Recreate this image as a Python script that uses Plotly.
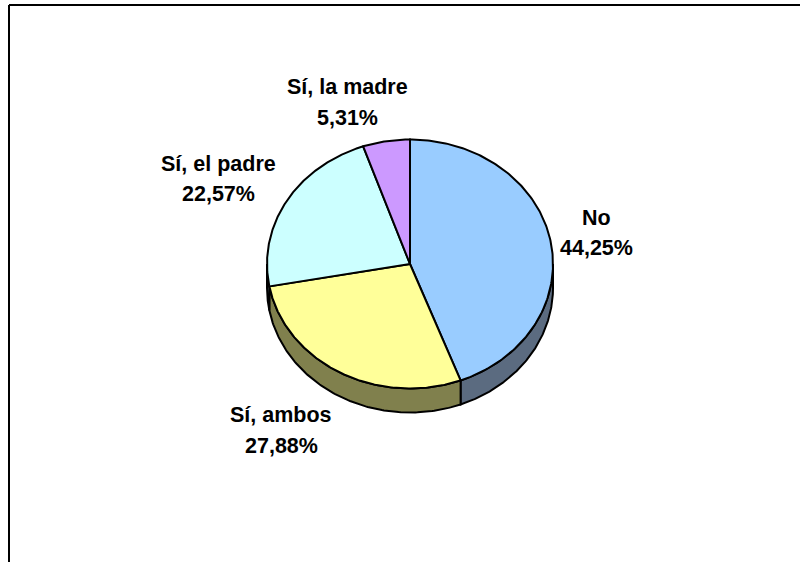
import numpy as np
import plotly.graph_objects as go

categories = ["No", "Sí, ambos", "Sí, el padre", "Sí, la madre"]
values = [44.25, 27.88, 22.57, 5.31]
top_colors = ["#99CCFF", "#FFFF99", "#CCFFFF", "#CC99FF"]
rim_colors = ["#5B6B80", "#80804D", "#668080", "#664D80"]
label_pos = [(596, 217.5), (281, 415), (218.5, 163.5), (347, 87)]

CX, CY, RX, RY, DEPTH = 410, 264, 143, 124.5, 24
LINE_GAP = 30.5
FONT = dict(family="Liberation Sans", size=21.5, color="black")


def point(deg):
    a = np.radians(deg)
    return CX + RX * np.sin(a), CY - RY * np.cos(a)


fig = go.Figure()
total = sum(values)
edges = np.concatenate([[0], np.cumsum(values)]) / total * 360

# side wall (only the front half of the pie shows it)
for i in range(len(values)):
    lo, hi = max(edges[i], 90), min(edges[i + 1], 270)
    if hi <= lo:
        continue
    t = np.linspace(lo, hi, 120)
    x, y = point(t)
    xs = np.concatenate([x, x[::-1], x[:1]])
    ys = np.concatenate([y, y[::-1] + DEPTH, y[:1]])
    fig.add_trace(go.Scatter(x=xs, y=ys, mode="lines", fill="toself",
                             fillcolor=rim_colors[i], line=dict(color="black", width=2),
                             hoverinfo="skip", showlegend=False))

# top face
for i, name in enumerate(categories):
    t = np.linspace(edges[i], edges[i + 1], 200)
    x, y = point(t)
    xs = np.concatenate([[CX], x, [CX]])
    ys = np.concatenate([[CY], y, [CY]])
    fig.add_trace(go.Scatter(x=xs, y=ys, mode="lines", fill="toself", name=name,
                             fillcolor=top_colors[i], line=dict(color="black", width=2),
                             showlegend=False))

# labels
for name, v, (lx, ly) in zip(categories, values, label_pos):
    for text, yy in ((name, ly), (f"{v:.2f}%".replace(".", ","), ly + LINE_GAP)):
        fig.add_annotation(x=lx, y=yy, text=f"<b>{text}</b>", showarrow=False,
                           font=FONT, xanchor="center", yanchor="middle")

# chart frame: runs off the right and bottom of the page
frame = dict(color="black", width=2)
fig.add_shape(type="line", x0=9, x1=9, y0=5, y1=562, line=frame)
fig.add_shape(type="line", x0=9, x1=800, y0=5, y1=5, line=frame)

fig.update_layout(
    width=800, height=562, margin=dict(l=0, r=0, t=0, b=0),
    paper_bgcolor="white", plot_bgcolor="white", showlegend=False,
    xaxis=dict(range=[0, 800], visible=False, fixedrange=True),
    yaxis=dict(range=[562, 0], visible=False, fixedrange=True),
)
fig.write_html(
    "out.html",
    config={"displayModeBar": False},
    post_script="document.body.style.margin='0';document.body.style.overflow='hidden';",
)
